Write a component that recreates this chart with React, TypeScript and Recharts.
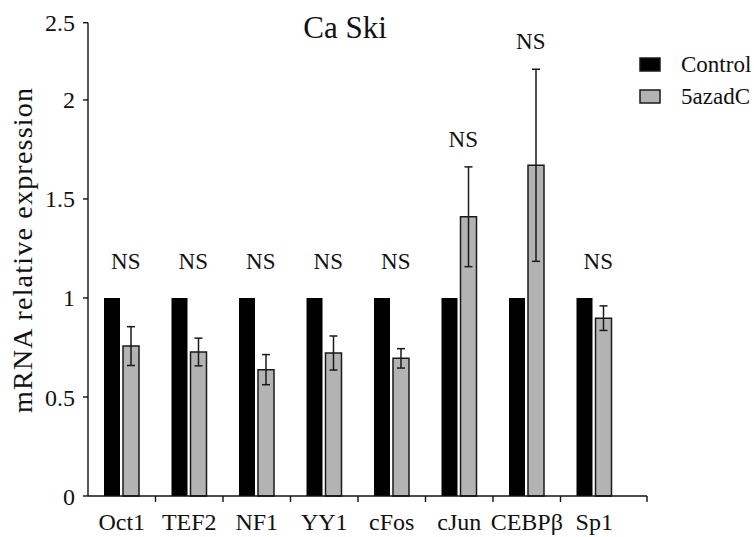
import React from 'react'
import { ComposedChart, Bar, Line, XAxis, YAxis, ErrorBar, LabelList } from 'recharts'

const GENES = ['Oct1', 'TEF2', 'NF1', 'YY1', 'cFos', 'cJun', 'CEBPβ', 'Sp1']
const CONTROL = [1, 1, 1, 1, 1, 1, 1, 1]
const CONTROL_ERR = [0, 0, 0, 0, 0, 0, 0, 0]
const AZA = [0.757, 0.727, 0.638, 0.722, 0.695, 1.41, 1.67, 0.898]
const AZA_ERR = [0.098, 0.07, 0.076, 0.086, 0.049, 0.252, 0.485, 0.062]
const NS_LEVEL = [1.148, 1.148, 1.148, 1.148, 1.148, 1.76, 2.256, 1.148]
const Y_TICKS = [0, 0.5, 1, 1.5, 2, 2.39]
const Y_TICK_LABELS = ['0', '0.5', '1', '1.5', '2', '2.5']
const SERIES = [
  { name: 'Control', fill: '#000000' },
  { name: '5azadC', fill: '#b3b3b3' },
]

const FONT = "'Liberation Serif', 'DejaVu Serif', serif"
const W = 754
const H = 537
const PAD_R = 19
const BAND = (W - 88 - 107 - PAD_R) / GENES.length
const txt = { fontFamily: FONT }

const data = GENES.map((gene, i) => ({
  gene,
  control: CONTROL[i],
  controlErr: CONTROL_ERR[i],
  aza: AZA[i],
  azaErr: AZA_ERR[i],
  ns: NS_LEVEL[i],
}))

function GeneTick(props: any) {
  const { x, y, payload, index } = props
  const tx = x + BAND / 2 + (index === GENES.length - 1 ? PAD_R : 0)
  return (
    <g>
      <line x1={tx} y1={y} x2={tx} y2={y + 6} stroke="#111" strokeWidth={1.4} />
      <text x={x} y={y + 34} textAnchor="middle" fontSize={24} style={txt} fill="#111">
        {payload.value}
      </text>
    </g>
  )
}

function NsLabel(props: any) {
  const { x, y } = props
  return (
    <text x={x + 4} y={y} textAnchor="middle" fontSize={23} style={txt} fill="#111">
      NS
    </text>
  )
}

export default function App() {
  return (
    <div
      style={{ position: 'absolute', left: 0, top: 0, width: W, height: H, background: '#fff', fontFamily: FONT }}
    >
      <ComposedChart
        width={W}
        height={H}
        data={data}
        margin={{ top: 22.7, right: 107, bottom: 0, left: 0 }}
        barGap={3}
        style={txt}
      >
        <XAxis
          dataKey="gene"
          type="category"
          height={41}
          padding={{ left: 0, right: PAD_R }}
          axisLine={{ stroke: '#111', strokeWidth: 1.4 }}
          tickLine={false}
          tickSize={0}
          tickMargin={0}
          interval={0}
          tick={<GeneTick />}
        />
        <YAxis
          width={88}
          domain={[0, 2.39]}
          ticks={Y_TICKS}
          interval={0}
          tickFormatter={(v: number, i: number) => Y_TICK_LABELS[i]}
          axisLine={{ stroke: '#111', strokeWidth: 1.4 }}
          tickLine={{ stroke: '#111', strokeWidth: 1.4 }}
          tickSize={5}
          tickMargin={8}
          tick={{ fontSize: 24, fontFamily: FONT, fill: '#111', style: txt }}
        />
        <Bar dataKey="control" fill={SERIES[0].fill} barSize={16} isAnimationActive={false}>
          <ErrorBar dataKey="controlErr" width={4} stroke="#777" strokeWidth={1.2} />
        </Bar>
        <Bar
          dataKey="aza"
          fill={SERIES[1].fill}
          stroke="#1a1a1a"
          strokeWidth={1.5}
          barSize={16}
          isAnimationActive={false}
        >
          <ErrorBar dataKey="azaErr" width={4} stroke="#1a1a1a" strokeWidth={1.5} />
        </Bar>
        <Line dataKey="ns" stroke="none" dot={false} activeDot={false} isAnimationActive={false}>
          <LabelList dataKey="ns" content={NsLabel} />
        </Line>
      </ComposedChart>
      <svg
        width={W}
        height={H}
        style={{ position: 'absolute', left: 0, top: 0, pointerEvents: 'none' }}
      >
        <text x={345} y={38} textAnchor="middle" fontSize={31} style={txt} fill="#111">
          Ca Ski
        </text>
        <text
          transform="translate(32, 250.5) rotate(-90)"
          textAnchor="middle"
          fontSize={28}
          style={txt}
          fill="#111"
          textLength={325}
          lengthAdjust="spacing"
        >
          mRNA relative expression
        </text>
        {SERIES.map((s, i) => (
          <g key={s.name}>
            <rect
              x={640}
              y={58 + i * 32}
              width={20}
              height={13}
              fill={s.fill}
              stroke="#1a1a1a"
              strokeWidth={1.5}
            />
            <text x={681} y={72 + i * 32} fontSize={23} style={txt} fill="#111">
              {s.name}
            </text>
          </g>
        ))}
      </svg>
    </div>
  )
}
